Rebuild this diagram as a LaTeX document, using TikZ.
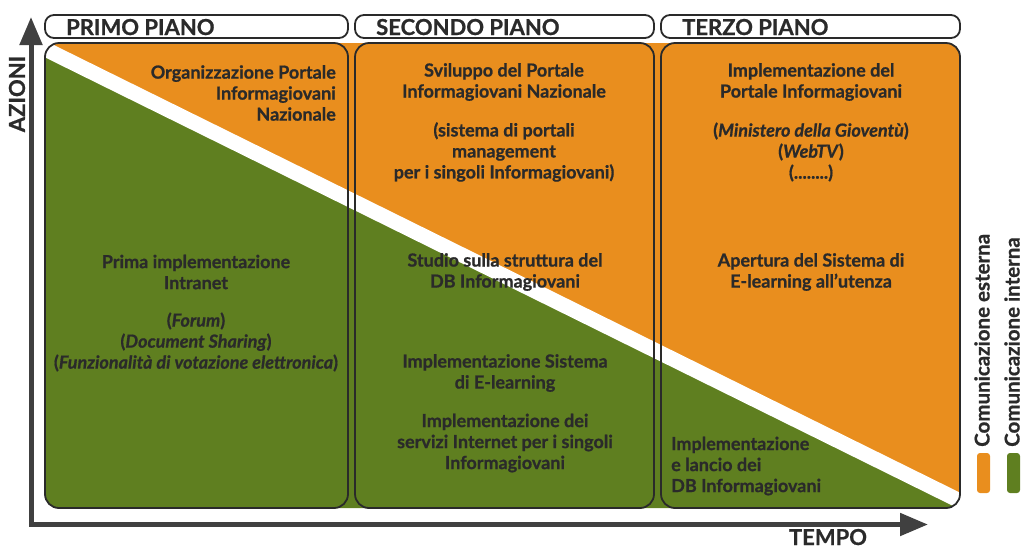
\documentclass[tikz,border=0pt]{standalone}
\usepackage{fontspec}
\setmainfont{Lato}[BoldFeatures={FakeBold=0.8},BoldItalicFeatures={FakeBold=0.8}]
\usetikzlibrary{arrows.meta}
\definecolor{arancio}{HTML}{E98E1E}
\definecolor{verde}{HTML}{5F7F20}
\definecolor{scuro}{HTML}{2A2A2A}
\definecolor{asse}{HTML}{404040}
\tikzset{
  riquadro/.style={draw=scuro,line width=1.8pt,rounded corners=14pt},
  testata/.style={draw=scuro,line width=1.8pt,rounded corners=9pt},
  voce/.style={font=\fontsize{18}{21}\selectfont\bfseries,text=scuro,align=center,inner sep=0pt},
  titolo/.style={font=\fontsize{22}{24}\selectfont\bfseries,text=scuro,inner sep=0pt},
  legenda/.style={font=\fontsize{20.5}{22}\selectfont\bfseries,text=scuro,inner sep=0pt,rotate=90,anchor=west},
  freccia/.style={draw=asse,line width=5pt,line join=miter,{Triangle[length=28pt,width=22pt]}-{Triangle[length=28pt,width=22pt]}}
}
\begin{document}
\begin{tikzpicture}[x=1pt,y=-1pt]
  \useasboundingbox (0,0) rectangle (1024,550);
  \begin{scope}
    \clip[rounded corners=14pt] (45,43) rectangle (960,508);
    \fill[arancio] (45,43) rectangle (960,508);
    \fill[verde] (45,49) -- (960,501) -- (960,512) -- (45,512) -- cycle;
    \draw[white,line width=15pt] (30,41.6) -- (975,508.4);
  \end{scope}
  \foreach \a/\b in {45/348,355/654,661/960} {
    \draw[riquadro] (\a,43) rectangle (\b,508);
    \draw[testata] (\a,15) rectangle (\b,38);
  }
  \foreach \a/\nome/\etichetta in {45/primo/PRIMO PIANO,355/secondo/SECONDO PIANO,661/terzo/TERZO PIANO}
    \node[titolo,anchor=base west] (\nome) at (\a+21,35) {\etichetta};

  \coordinate (cima) at (31,17);
  \coordinate (origine) at (31,524.5);
  \coordinate (fine) at (928,524.5);
  \draw[freccia] (cima) -- (origine) -- (fine);
  \node[titolo,rotate=90] (azioni) at (17,94) {AZIONI};
  \node[titolo,anchor=base] (tempo) at (828,545) {TEMPO};

  \node[voce,anchor=east,align=right] (portale) at (336,93) {Organizzazione Portale\\Informagiovani\\Nazionale};
  \node[voce] (intranet) at (196,272) {Prima implementazione\\Intranet};
  \node[voce] (forum) at (196,342) {(\textit{Forum})\\(\textit{Document Sharing})\\(\textit{Funzionalità di votazione elettronica})};

  \node[voce] (sviluppo) at (504,82) {Sviluppo del Portale\\Informagiovani Nazionale};
  \node[voce] (sistema) at (504,152) {(sistema di portali\\management\\per i singoli Informagiovani)};
  \node[voce] (studio) at (505,272) {Studio sulla struttura del\\DB Informagiovani};
  \node[voce] (elearning) at (505,373) {Implementazione Sistema\\di E-learning};
  \node[voce] (servizi) at (505,443) {Implementazione dei\\servizi Internet per i singoli\\Informagiovani};

  \node[voce] (nazionale) at (811,82) {Implementazione del\\Portale Informagiovani};
  \node[voce] (ministero) at (811,152) {(\textit{Ministero della Gioventù})\\(\textit{WebTV})\\(........)};
  \node[voce] (apertura) at (811,272) {Apertura del Sistema di\\E-learning all’utenza};
  \node[voce,anchor=west,align=left] (lancio) at (671,466) {Implementazione\\e lancio dei\\DB Informagiovani};

  \fill[arancio,rounded corners=3pt] (977,453) rectangle (990,493);
  \fill[verde,rounded corners=3pt] (1007,453) rectangle (1020,493);
  \node[legenda] (esterna) at (982,447) {Comunicazione esterna};
  \node[legenda] (interna) at (1012,447) {Comunicazione interna};
\end{tikzpicture}
\end{document}
